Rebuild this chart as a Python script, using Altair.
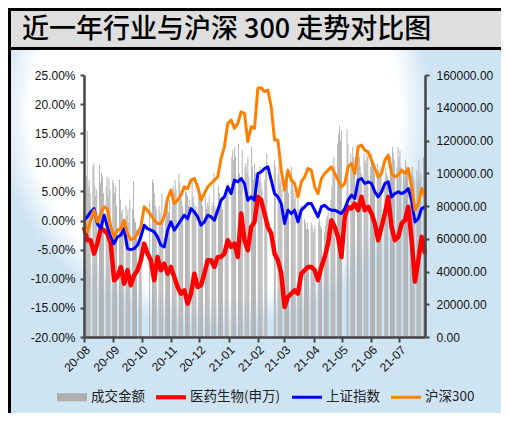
import altair as alt
import pandas as pd

TITLE = "近一年行业与沪深 300 走势对比图"
SERIES = ["成交金额", "医药生物(申万)", "上证指数", "沪深300"]
COLORS = ["#aeaeae", "#ff0000", "#0000ff", "#ff8000"]
LEGEND_PATHS = [
    "M-1,-0.27L1,-0.27L1,0.27L-1,0.27Z",
    "M-1,-0.14L1,-0.14L1,0.14L-1,0.14Z",
    "M-1,-0.1L1,-0.1L1,0.1L-1,0.1Z",
    "M-1,-0.1L1,-0.1L1,0.1L-1,0.1Z",
]
LEFT_TICKS = [-20, -15, -10, -5, 0, 5, 10, 15, 20, 25]
RIGHT_TICKS = [0, 20000, 40000, 60000, 80000, 100000, 120000, 140000, 160000]
MONTHS = [(2020, m) for m in range(8, 13)] + [(2021, m) for m in range(1, 8)]

# percent change since start
pharma = [-1.09, -3.38, -3.38, -5.68, -3.96, -1.38, -1.66, -2.24, -3.96, -10.26,
          -9.69, -7.97, -10.84, -8.54, -11.12, -9.40, -8.54, -6.82, -3.96, -5.68,
          -6.82, -10.26, -6.25, -8.54, -7.40, -9.12, -7.97, -9.69, -11.41, -12.56,
          -11.98, -14.28, -12.56, -9.12, -11.41, -11.12, -9.12, -6.82, -6.82, -7.97,
          -6.25, -6.25, -5.68, -3.38, -4.53, -3.96, -6.25, 1.20, -3.38, -5.10,
          -1.09, -0.23, 4.07, 3.50, 1.20, -1.09, -2.24, -5.68, -6.82, -9.12,
          -14.85, -13.13, -12.56, -11.98, -12.56, -9.12, -8.54, -7.97, -7.97, -8.54,
          -10.26, -7.97, -6.25, -3.96, 0.06, -1.09, -2.81, -6.25, 0.63, 2.35,
          2.06, 2.92, 1.78, 4.07, 1.78, 2.35, 1.20, -0.52, -3.38, -1.09,
          1.20, 4.07, -1.09, -3.38, -2.81, -0.52, 0.06, 2.35, -3.38, -10.50,
          -6.80, -2.80, -5.70]
shanghai = [0.06, 0.63, 1.49, 2.06, -0.52, -1.38, 0.92, -1.09, -2.81, -3.96,
            -2.81, -2.52, -1.38, -4.82, -4.99, -4.82, -4.24, -2.81, -0.80, -1.38,
            -1.66, -1.95, -2.81, -4.24, -4.53, -1.66, -0.23, -1.66, -0.80, 0.06,
            0.92, 0.34, 2.06, 1.49, 0.63, -0.80, -0.23, 0.92, 0.63, 0.06,
            1.78, 3.50, 4.07, 5.79, 4.64, 6.94, 6.65, 7.22, 6.36, 3.50,
            4.07, 3.50, 8.08, 8.37, 8.94, 9.23, 6.94, 4.64, 4.07, 2.92,
            -0.52, 1.78, 1.20, 1.78, -0.23, 1.78, 2.35, 2.92, 2.92, 1.78,
            0.63, 2.35, 2.64, 2.06, 1.78, 1.78, 1.49, 1.20, 2.06, 3.50,
            4.36, 3.78, 6.94, 7.22, 6.36, 6.65, 6.36, 4.93, 4.07, 4.93,
            6.36, 6.65, 4.07, 4.64, 4.93, 4.64, 4.93, 5.50, 3.50, -0.23,
            0.34, 2.06, 2.35]
csi300 = [0.06, -1.95, 0.06, 1.78, -0.23, 1.20, 2.35, 2.06, -1.09, -2.81,
          -1.66, -1.38, 0.06, -2.24, -3.27, -3.10, -2.24, -1.09, 2.35, 1.78,
          0.92, 0.06, -0.52, -0.52, 0.63, 3.78, 5.22, 2.92, 3.50, 4.36,
          5.79, 5.50, 6.94, 7.22, 5.79, 3.50, 4.64, 5.79, 6.36, 6.94,
          7.51, 10.67, 12.67, 16.69, 17.26, 15.83, 16.69, 18.69, 18.41, 13.53,
          16.11, 15.83, 22.71, 22.82, 22.13, 22.42, 19.55, 13.82, 13.82, 8.66,
          5.22, 8.66, 6.94, 6.36, 4.07, 6.65, 7.51, 8.94, 8.66, 5.79,
          4.64, 7.22, 8.08, 8.66, 9.23, 8.08, 6.94, 5.79, 6.36, 9.23,
          9.81, 8.08, 12.67, 12.96, 12.10, 11.81, 10.38, 8.94, 7.51, 8.08,
          10.38, 11.24, 8.08, 7.51, 7.80, 8.66, 8.08, 8.94, 5.79, 1.78,
          2.92, 5.50, 4.07]

# daily turnover (right axis), by month of trading days
vol_aug = [98000, 126000, 92000, 96000, 88000, 104000, 106000, 92000, 86000, 90000,
           105000, 94000, 100000, 98000, 88000, 92000, 98000, 86000, 97000, 90000, 96000]
vol_sep = [94000, 88000, 92000, 80000, 96000, 84000, 76000, 78000, 72000, 80000, 74000,
           78000, 70000, 84000, 78000, 95000, 72000, 70000, 66000, 64000, 66000, 62000]
vol_oct = [82000, 96000, 94000, 88000, 80000, 78000, 80000, 76000, 72000, 88000, 74000,
           72000, 78000, 82000, 76000, 84000]
vol_nov = [86000, 92000, 88000, 96000, 90000, 100000, 94000, 88000, 84000, 80000,
           92000, 88000, 86000, 80000, 84000, 96000, 86000, 82000, 76000, 80000, 90000]
vol_dec = [86000, 88000, 84000, 80000, 86000, 78000, 82000, 80000, 86000, 80000, 82000,
           100000, 80000, 78000, 92000, 88000, 80000, 86000, 78000, 84000, 88000, 90000, 94000]
vol_jan = [110000, 114000, 108000, 116000, 110000, 118000, 100000, 96000, 98000, 114000,
           104000, 106000, 100000, 110000, 98000, 116000, 104000, 96000, 106000, 100000]
vol_feb = [100000, 96000, 104000, 94000, 90000, 96000, 104000, 112000, 108000, 104000,
           100000, 106000, 94000, 96000, 90000]
vol_mar = [92000, 96000, 94000, 100000, 88000, 104000, 98000, 90000, 84000, 88000, 84000,
           78000, 74000, 80000, 80000, 72000, 70000, 66000, 70000, 66000, 70000, 68000, 64000]
vol_apr = [66000, 68000, 70000, 72000, 68000, 66000, 64000, 68000, 72000, 74000, 76000,
           84000, 92000, 100000, 110000, 104000, 118000, 124000, 129000, 120000, 126000]
vol_may = [127000, 118000, 112000, 106000, 116000, 110000, 104000, 108000, 116000, 110000,
           104000, 100000, 112000, 108000, 106000, 114000, 110000, 104000]
vol_jun = [112000, 108000, 104000, 100000, 106000, 102000, 98000, 104000, 100000, 96000,
           104000, 100000, 98000, 110000, 106000, 116000, 112000, 108000, 104000, 116000, 110000]
vol_jul = [114000, 104000, 102000, 98000, 108000, 104000, 100000, 96000, 100000, 104000,
           98000, 96000, 102000, 94000, 108000, 96000, 100000, 110000, 129000, 116000]

HOLIDAYS = ["2020-10-01", "2020-10-02", "2020-10-05", "2020-10-06", "2020-10-07",
            "2020-10-08", "2021-01-01", "2021-02-11", "2021-02-12", "2021-02-15",
            "2021-02-16", "2021-02-17", "2021-04-05", "2021-05-03", "2021-05-04",
            "2021-05-05", "2021-06-14"]

volume = (vol_aug + vol_sep + vol_oct + vol_nov + vol_dec + vol_jan + vol_feb
          + vol_mar + vol_apr + vol_may + vol_jun + vol_jul)
days = pd.bdate_range("2020-08-03", "2021-07-28")
days = days[~days.isin(pd.to_datetime(HOLIDAYS))]
assert len(days) == len(volume), (len(days), len(volume))
bars_df = pd.DataFrame({"d": days, "d2": days + pd.Timedelta(hours=23), "vol": volume})

line_dates = pd.date_range("2020-08-01", "2021-07-28", periods=len(pharma))
red_df = pd.DataFrame({"d": line_dates, "v": pharma})
blue_df = pd.DataFrame({"d": line_dates, "v": shanghai})
orange_df = pd.DataFrame({"d": line_dates, "v": csi300})

W, H = 341, 262
PL, PT, PR, PB = 76, 67, 76, 76
one = pd.DataFrame({"a": [0]})

x_scale = alt.Scale(domain=[alt.DateTime(year=2020, month=8, date=1),
                            alt.DateTime(year=2021, month=7, date=28)])
x_axis = alt.Axis(values=[alt.DateTime(year=y, month=m, date=1) for y, m in MONTHS],
                  format="%y-%m", labelAngle=-45, labelOverlap=False, title=None, grid=False,
                  domainColor="#444444", domainWidth=2.5, tickColor="#444444",
                  tickWidth=2, tickSize=5, labelFont="Liberation Sans", labelFontSize=12,
                  labelColor="#111111", labelPadding=2, zindex=1)
left_scale = alt.Scale(domain=[-20, 25], nice=False, zero=False)
left_axis = alt.Axis(orient="left", values=LEFT_TICKS, title=None, grid=False,
                     labelExpr="(datum.value < 0 ? '-' : '') + format(abs(datum.value), '.2f') + '%'",
                     domainColor="#444444", domainWidth=2.5, tickColor="#444444",
                     tickWidth=2, tickSize=4, labelFont="Liberation Sans", labelFontSize=12,
                     labelColor="#111111", labelPadding=5, zindex=1)
right_axis = alt.Axis(orient="right", values=RIGHT_TICKS, format=".2f", title=None, grid=False,
                      domainColor="#444444", domainWidth=2.5, tickColor="#444444",
                      tickWidth=2, tickSize=4, labelFont="Liberation Sans", labelFontSize=12,
                      labelColor="#111111", labelPadding=7, zindex=1)

bg = alt.Chart(one).mark_rect(
    fill={"gradient": "radial", "x1": 0.42, "y1": 0.3, "r1": 0, "x2": 0.42, "y2": 0.3, "r2": 0.55,
          "stops": [{"offset": 0, "color": "#ffffff"}, {"offset": 0.68, "color": "#ffffff"},
                    {"offset": 0.8, "color": "#cfe4f3"}, {"offset": 1, "color": "#cfe4f3"}]},
    strokeWidth=0,
).encode(x=alt.value(-PL), x2=alt.value(W + PR), y=alt.value(-PT), y2=alt.value(H + PB))

title_box = alt.Chart(one).mark_rect(fill="#dedede", stroke="black", strokeWidth=3).encode(
    x=alt.value(-PL + 1.5), x2=alt.value(W + PR + 20), y=alt.value(-PT + 1.5), y2=alt.value(-26.5))
left_border = alt.Chart(one).mark_rule(color="black", strokeWidth=3).encode(
    x=alt.value(-PL + 1.5), y=alt.value(-PT + 1.5), y2=alt.value(H + PB + 5))
title_text = alt.Chart(pd.DataFrame({"t": [TITLE]})).mark_text(
    align="left", baseline="alphabetic", fontSize=27, fontWeight=500,
    font="Noto Sans CJK SC", color="black"
).encode(text="t:N", x=alt.value(-62), y=alt.value(-37.5))

bars = alt.Chart(bars_df).mark_bar(color=COLORS[0]).encode(
    x=alt.X("d:T", scale=x_scale, axis=x_axis),
    x2="d2:T",
    y=alt.Y("vol:Q", scale=alt.Scale(domain=[0, 160000], nice=False), axis=right_axis),
    y2=alt.datum(0),
)

def line(df, color, width):
    return alt.Chart(df).mark_line(color=color, strokeWidth=width, strokeJoin="round").encode(
        x=alt.X("d:T", scale=x_scale, axis=x_axis),
        y=alt.Y("v:Q", scale=left_scale, axis=left_axis),
    )

lines = alt.layer(line(red_df, COLORS[1], 4.5), line(blue_df, COLORS[2], 3),
                  line(orange_df, COLORS[3], 3))

leg = alt.Legend(title=None, orient="none", legendX=-27, legendY=307, direction="horizontal",
                 columns=4, symbolSize=900, symbolStrokeWidth=0, symbolOpacity=1,
                 labelFont="Noto Sans CJK SC", labelFontSize=13.5, labelColor="#222222",
                 labelOffset=4, columnPadding=11)
legend_pts = alt.Chart(pd.DataFrame({"s": SERIES})).mark_point(filled=True, opacity=1).encode(
    color=alt.Color("s:N", scale=alt.Scale(domain=SERIES, range=COLORS), legend=leg),
    shape=alt.Shape("s:N", scale=alt.Scale(domain=SERIES, range=LEGEND_PATHS), legend=leg),
    x=alt.value(-3000), y=alt.value(-3000),
)

chart = alt.layer(bg, title_box, left_border, title_text, bars, lines, legend_pts).resolve_scale(
    y="independent"
).properties(
    width=W, height=H,
    autosize=alt.AutoSizeParams(type="none"),
    padding={"left": PL, "top": PT, "right": PR, "bottom": PB},
).configure_view(stroke=None)

chart.save("out.html", embed_options={"renderer": "svg", "actions": False})
